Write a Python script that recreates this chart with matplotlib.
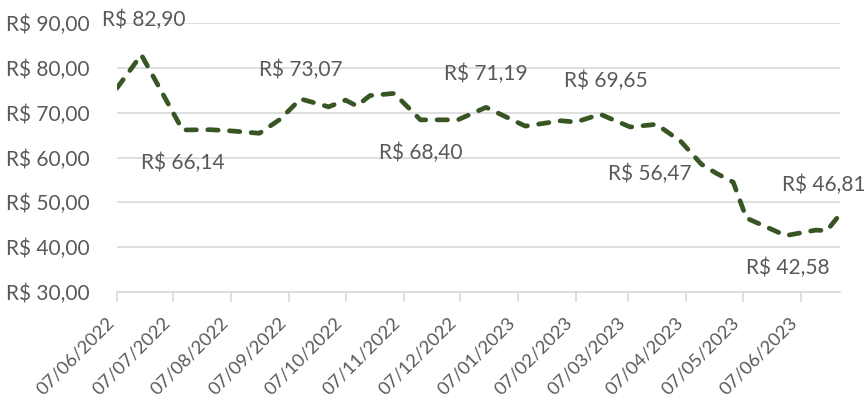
import matplotlib
matplotlib.use("Agg")
import matplotlib.pyplot as plt
import numpy as np
import pandas as pd

dates = ["2022-06-07", "2022-06-20", "2022-07-12", "2022-07-27", "2022-08-08",
         "2022-08-22", "2022-09-02", "2022-09-13", "2022-09-28", "2022-10-07",
         "2022-10-13", "2022-10-20", "2022-11-02", "2022-11-16", "2022-12-06",
         "2022-12-21", "2023-01-11", "2023-01-30", "2023-02-07", "2023-02-20",
         "2023-03-08", "2023-03-22", "2023-04-04", "2023-04-15", "2023-04-23",
         "2023-05-02", "2023-05-09", "2023-05-30", "2023-06-15", "2023-06-21",
         "2023-06-27"]
prices = [75.5, 82.90, 66.14, 66.2, 65.9,
          65.4, 68.5, 73.07, 71.3, 72.8,
          71.5, 73.8, 74.3, 68.40, 68.40,
          71.19, 67.0, 68.2, 67.9, 69.65,
          66.8, 67.4, 63.6, 58.5, 56.47,
          54.5, 46.5, 42.58, 43.8, 43.7,
          46.81]
tick_dates = ["2022-06-07", "2022-07-07", "2022-08-07", "2022-09-07", "2022-10-07",
              "2022-11-07", "2022-12-07", "2023-01-07", "2023-02-07", "2023-03-07",
              "2023-04-07", "2023-05-07", "2023-06-07"]
y_ticks = [30, 40, 50, 60, 70, 80, 90]
# labelled points: (index, dx px, dy px, ha)
labels = [(1, 2, 35, "center"), (2, 0, -33, "center"), (7, 0, 29, "center"),
          (13, 0, -33, "center"), (15, 0, 33, "center"), (19, 6, 33, "center"),
          (24, -25, -1, "right"), (27, 2, -32, "center"), (30, -14, 32, "center")]

def brl(v):
    return "R$ " + f"{v:.2f}".replace(".", ",")

font = "Lato"
fs = 15
tc = "#595959"
dt = pd.to_datetime(dates)
tdt = pd.to_datetime(tick_dates)

fig = plt.figure(figsize=(8.68, 4.05), dpi=100)
ax = fig.add_axes([117/868, 113/405, (840-117)/868, (292-23)/405])

ax.plot(dt, prices, color="#375623", lw=3.4, dashes=(2.2, 2.4),
        dash_capstyle="round", solid_capstyle="round", zorder=3)

ax.set_ylim(30, 90)
ax.set_yticks(y_ticks)
ax.set_yticklabels([brl(v) for v in y_ticks], fontfamily=font, fontsize=fs, color=tc)
ax.set_xlim(pd.Timestamp("2022-06-07"), pd.Timestamp("2023-06-28"))
ax.set_xticks(tdt)
ax.set_xticklabels([d.strftime("%d/%m/%Y") for d in tdt], rotation=45, ha="right",
                   fontfamily=font, fontsize=13.2, color=tc)

ax.grid(axis="y", color="#d9d9d9", lw=1.2)
ax.set_axisbelow(True)
for s in ["left", "right", "top"]:
    ax.spines[s].set_visible(False)
ax.spines["bottom"].set_color("#d9d9d9")
ax.spines["bottom"].set_linewidth(1.2)
ax.tick_params(axis="y", length=0, pad=20)
ax.tick_params(axis="x", length=7, color="#d9d9d9", width=1.2, pad=9)

for idx, dx, dy, ha in labels:
    ax.annotate(brl(prices[idx]), (dt[idx], prices[idx]), xytext=(dx, dy),
                textcoords="offset pixels", ha=ha, va="center",
                fontfamily=font, fontsize=fs, color=tc, annotation_clip=False)

fig.savefig("out.png", dpi=100)
